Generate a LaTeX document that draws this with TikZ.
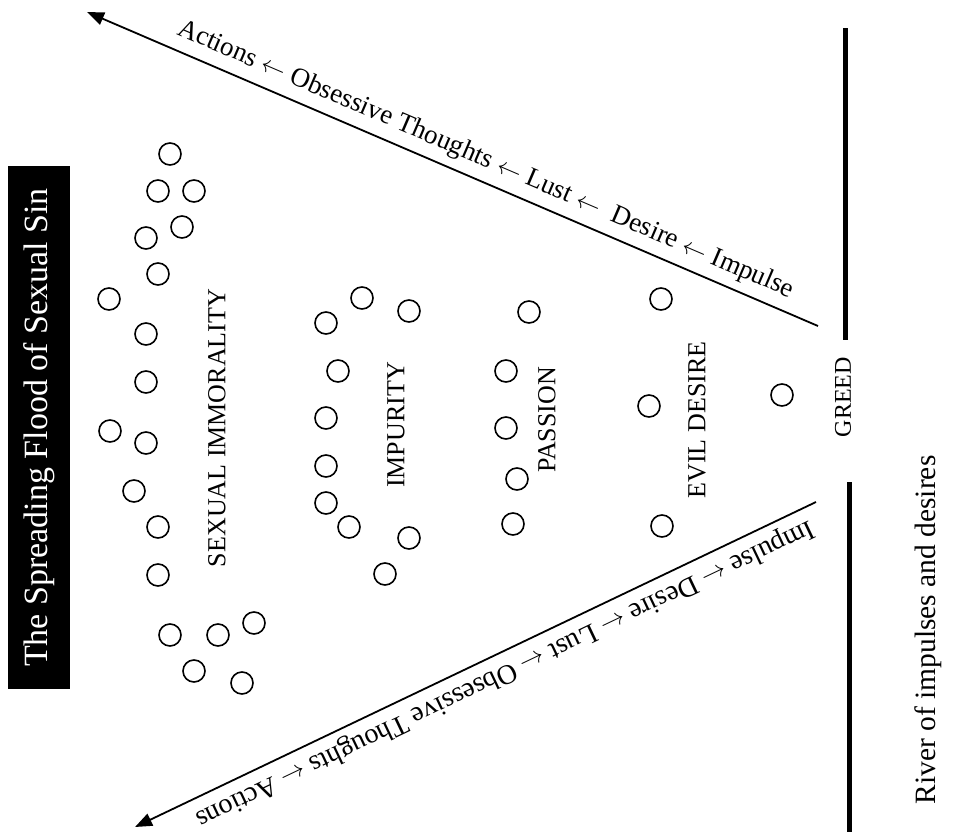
\documentclass[tikz,border=0pt]{standalone}
\usepackage{fontspec}
\setmainfont{Liberation Serif}
\usetikzlibrary{arrows.meta}
\tikzset{
  dot/.style={circle, draw=black, line width=1.6pt, minimum size=22pt, inner sep=0pt},
  flow/.style={line width=1.8pt, -{Triangle[length=17pt,width=13pt]}},
  bar/.style={line width=5pt},
  lbl/.style={font=\fontsize{27}{31}\selectfont, inner sep=0pt},
  grp/.style={font=\fontsize{26}{30}\selectfont, rotate=90, inner sep=0pt},
}
\newcommand{\la}{$\leftarrow$}
\begin{document}
\begin{tikzpicture}[x=1pt,y=-1pt]
\useasboundingbox (0,0) rectangle (972,838);
% arrows
\coordinate (tA) at (818,326);
\coordinate (tB) at (87,12);
\coordinate (bA) at (816,502);
\coordinate (bB) at (135,827);
\draw[flow] (tA) -- (tB);
\draw[flow] (bA) -- (bB);
\node[lbl, anchor=base, rotate=-23.25] (ttext) at (483,166) {Actions \la{} Obsessive Thoughts \la{} Lust \la{}\ \ Desire \la{} Impulse};
\node[lbl, font=\fontsize{28}{32}\selectfont, anchor=base, rotate=205.5] (btext) at (502,667) {Impulse \la{} Desire \la{} Lust \la{} Obsessive Thoughts \la{} Actions};
% bars
\coordinate (b1) at (845,28);
\coordinate (b2) at (845,340);
\coordinate (b3) at (849,482);
\coordinate (b4) at (849,832);
\draw[bar] (b1) -- (b2);
\draw[bar] (b3) -- (b4);
% labels
\node[grp] (sexual) at (217,428) {SEXUAL IMMORALITY};
\node[grp] (impurity) at (396,425) {IMPURITY};
\node[grp] (passion) at (547,420) {PASSION};
\node[grp] (evil) at (697,420) {EVIL DESIRE};
\node[grp, font=\fontsize{24}{28}\selectfont] (greed) at (843,397) {GREED};
\node[fill=black, text=white, rotate=90, minimum width=523pt, minimum height=62pt, inner sep=0pt, font=\fontsize{34}{38}\selectfont] (title) at (39,427.5) {The Spreading Flood of Sexual Sin};
\node[grp, font=\fontsize{29.5}{33}\selectfont] (river) at (928,630) {River of impulses and desires};
% circles
\foreach \p [count=\i] in {(170,154),(158,191),(194,191),(182,227),(146,238),(158,274),(109,299),(146,334),(146,382),(110,431),(146,443),(134,491),(158,527),(158,575),(170,635),(218,635),(254,623),(194,671),(242,683)}
  \node[dot] (s\i) at \p {};
\foreach \p [count=\i] in {(362,298),(409,311),(326,323),(338,371),(326,418),(326,466),(326,503),(349,527),(409,538),(385,574)}
  \node[dot] (u\i) at \p {};
\foreach \p [count=\i] in {(529,312),(506,371),(506,428),(517,479),(513,524)}
  \node[dot] (p\i) at \p {};
\foreach \p [count=\i] in {(661,299),(649,406),(662,526)}
  \node[dot] (e\i) at \p {};
\node[dot] (g1) at (782,395) {};
\end{tikzpicture}
\end{document}
